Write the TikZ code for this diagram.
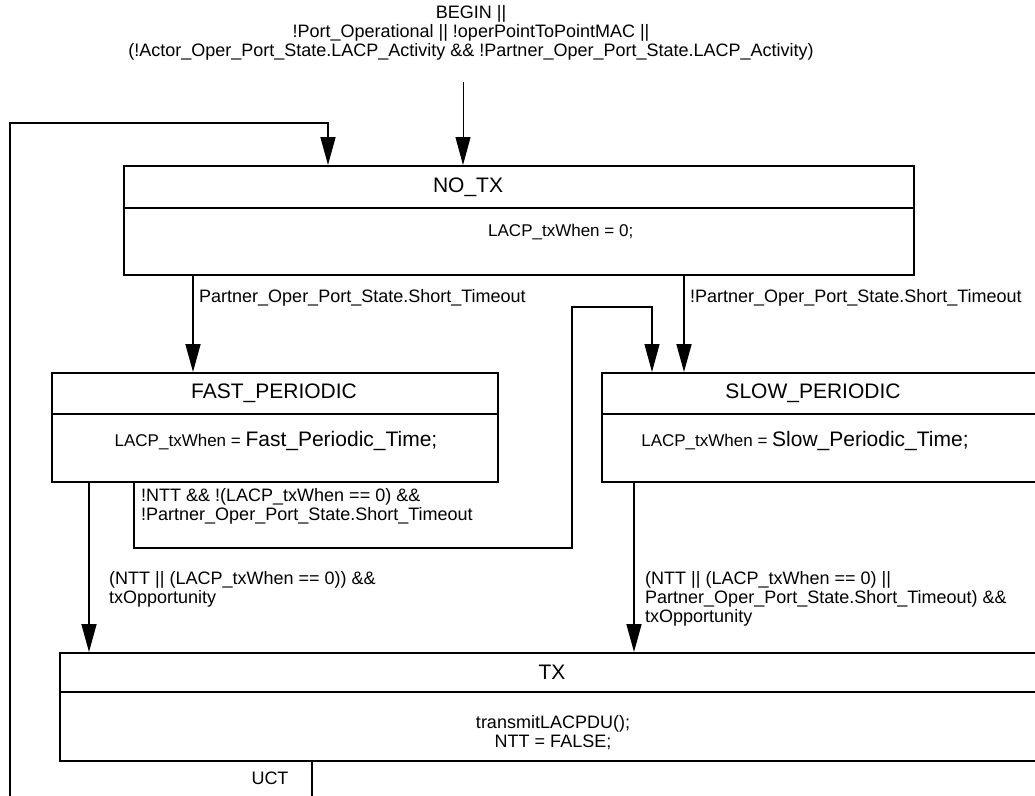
\documentclass[tikz,border=0pt]{standalone}
\usepackage{fontspec}
\setmainfont{Liberation Sans}
\usetikzlibrary{arrows.meta,positioning,calc}

\begin{document}
\begin{tikzpicture}[
            x=1pt, y=-1pt,
            state_box/.style={rectangle, draw, line width=2pt, anchor=north west, minimum height=109pt, inner sep=0pt},
            state_name/.style={font=\fontsize{21}{24}\selectfont, inner sep=0pt},
            state_body/.style={font=\fontsize{17}{20}\selectfont, inner sep=0pt, align=center},
            cond_text/.style={font=\fontsize{18}{19}\selectfont, inner sep=0pt, align=left, anchor=west},
            divider/.style={line width=2pt},
            trans/.style={line width=1.6pt, -{Triangle[length=28pt, width=15pt]}},
            trans_line/.style={line width=1.6pt}
        ]
            \useasboundingbox (0,0) rectangle (1035,795);
            \clip (0,0) rectangle (1035,795);
            \fill[white] (0,0) rectangle (1035,795);

            % The states
            \node[state_box, minimum width=790pt] (notx) at (123,165) {};
            \node[state_box, minimum width=446pt] (fast) at (51,372) {};
            \node[state_box, minimum width=460pt] (slow) at (601,372) {};
            \node[state_box, minimum width=1000pt, minimum height=108pt] (tx) at (59,652) {};
            \foreach \b/\d in {notx/43, fast/42, slow/42, tx/40}
                \draw[divider] ([yshift=-\d pt]\b.north west) -- ([yshift=-\d pt]\b.north east);

            \node[state_name] (notx_name) at (468,187) {NO\_TX};
            \node[state_body, anchor=west] (notx_body) at (488,232) {LACP\_txWhen = 0;};
            \node[state_name] (fast_name) at (274,393) {FAST\_PERIODIC};
            \node[state_body] (fast_body) at (276,441) {LACP\_txWhen = {\fontsize{21}{24}\selectfont Fast\_Periodic\_Time;}};
            \node[state_name] (slow_name) at (813,393) {SLOW\_PERIODIC};
            \node[state_body] (slow_body) at (805,441) {LACP\_txWhen = {\fontsize{21}{24}\selectfont Slow\_Periodic\_Time;}};
            \node[state_name] (tx_name) at (552,672) {TX};
            \node[state_body, font=\fontsize{18}{19}\selectfont] (tx_body) at (553,733) {transmitLACPDU();\\NTT = FALSE;};

            % Entry condition
            \node[cond_text, anchor=center, align=center] (begin_cond) at (471,33) {BEGIN ||\\!Port\_Operational || !operPointToPointMAC ||\\(!Actor\_Oper\_Port\_State.LACP\_Activity \&\& !Partner\_Oper\_Port\_State.LACP\_Activity)};
            \coordinate (begin_pt) at (463,82);
            \draw[trans, line width=1pt] (begin_pt) -- (begin_pt |- notx.north);

            % Loop back from UCT
            \coordinate (loop_bot) at (10,800);
            \coordinate (loop_top) at (328,123);
            \draw[trans] (loop_bot) |- (loop_top) -- (loop_top |- notx.north);

            % NO_TX to periodic states
            \coordinate (col_fast) at (193,0);
            \draw[trans] (notx.south -| col_fast) -- (fast.north -| col_fast);
            \node[cond_text] (lbl_short) at (199,298) {Partner\_Oper\_Port\_State.Short\_Timeout};
            \coordinate (col_slow) at (684,0);
            \draw[trans] (notx.south -| col_slow) -- (slow.north -| col_slow);
            \node[cond_text] (lbl_notshort) at (690,298) {!Partner\_Oper\_Port\_State.Short\_Timeout};

            % FAST_PERIODIC to SLOW_PERIODIC
            \coordinate (re_x) at (134,0);
            \coordinate (re_bot) at (572,548);
            \coordinate (re_top) at (652,307);
            \draw[trans, line width=1.2pt] (fast.south -| re_x) |- (re_bot) |- (re_top) -- (re_top |- slow.north);
            \node[cond_text, anchor=north west] (lbl_stay) at (141,488) {!NTT \&\& !(LACP\_txWhen == 0) \&\&\\!Partner\_Oper\_Port\_State.Short\_Timeout};

            % periodic states to TX
            \coordinate (col_fast_tx) at (89,0);
            \draw[trans] (fast.south -| col_fast_tx) -- (tx.north -| col_fast_tx);
            \node[cond_text, anchor=north west] (lbl_fast_tx) at (109,571) {(NTT || (LACP\_txWhen == 0)) \&\&\\txOpportunity};
            \coordinate (col_slow_tx) at (634,0);
            \draw[trans] (slow.south -| col_slow_tx) -- (tx.north -| col_slow_tx);
            \node[cond_text, anchor=north west] (lbl_slow_tx) at (645,571) {(NTT || (LACP\_txWhen == 0) ||\\Partner\_Oper\_Port\_State.Short\_Timeout) \&\&\\txOpportunity};

            % TX out
            \coordinate (uct_x) at (312,800);
            \draw[trans_line] (tx.south -| uct_x) -- (uct_x);
            \node[cond_text, anchor=center] (lbl_uct) at (270,778) {UCT};
        \end{tikzpicture}
\end{document}
